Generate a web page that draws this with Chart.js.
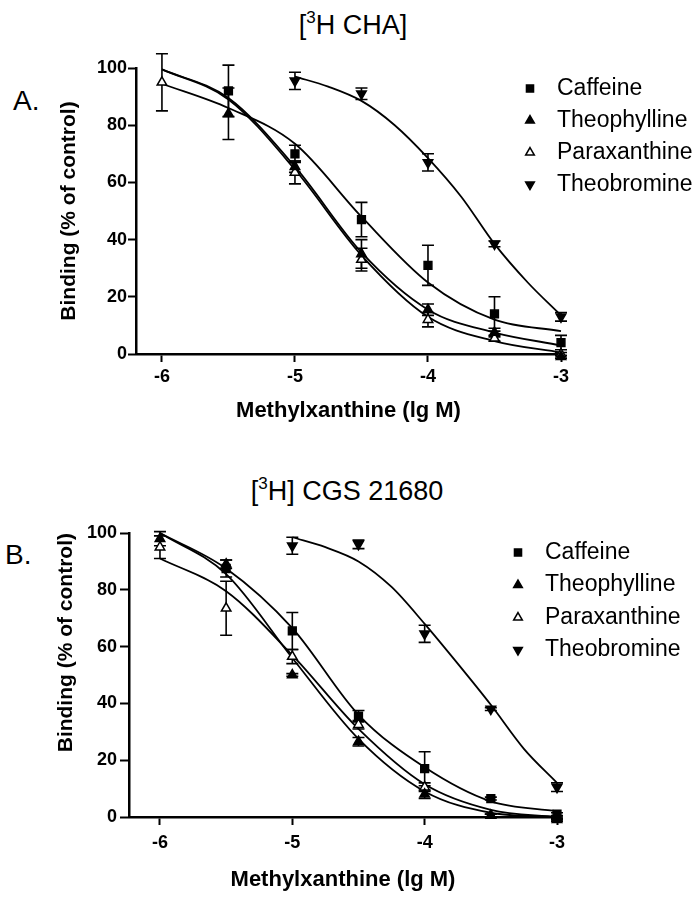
<!DOCTYPE html>
<html>
<head>
<meta charset="utf-8">
<script src="https://cdn.jsdelivr.net/npm/chart.js@4.4.1/dist/chart.umd.min.js"></script>
<style>
  body { margin: 0; background: #fff; }
  #page { position: relative; width: 695px; height: 900px; font-family: 'Liberation Sans', Arial, sans-serif; color: #000; }
  canvas { position: absolute; left: 0; }
  .title { position: absolute; width: 260px; text-align: center; font-size: 27px; line-height: 27px; white-space: nowrap; }
  .title sup { font-size: 17px; line-height: 0; position: relative; top: -11px; vertical-align: baseline; }
  .panel { position: absolute; font-size: 28px; line-height: 28px; }
</style>
</head>
<body>
<div id="page">
  <div class="title" style="left:223px; top:12px">[<sup>3</sup>H CHA]</div>
  <div class="panel" style="left:13px; top:87px">A.</div>
  <canvas id="chartA" width="695" height="450" style="top:0"></canvas>

  <div class="title" style="left:217px; top:478px">[<sup>3</sup>H] CGS 21680</div>
  <div class="panel" style="left:5px; top:541px">B.</div>
  <canvas id="chartB" width="695" height="450" style="top:450px"></canvas>
</div>

<script>
// series order used for both panels
const compounds = ['Caffeine', 'Theophylline', 'Paraxanthine', 'Theobromine']
const xTicks = [-6, -5, -4, -3]
const yTicks = [0, 20, 40, 60, 80, 100]

// ---- panel A: [3H] CHA binding ----
const caffeineXA = [-5.5, -5, -4.5, -4, -3.5, -3]
const caffeineA = [92, 70, 47, 31, 14, 4]
const caffeineErrA = [9, 3, 6, 7, 6, 2.5]

const theophyllineXA = [-5.5, -5, -4.5, -4, -3.5, -3]
const theophyllineA = [84, 65.5, 35, 15.5, 7.5, -1]
const theophyllineErrA = [9, 2, 5, 2, 1.5, 0.5]

const paraxanthineXA = [-6, -5, -4.5, -4, -3.5, -3]
const paraxanthineA = [95, 63.5, 33, 12, 5.5, 0]
const paraxanthineErrA = [10, 4, 4, 2.5, 1, 0.5]

const theobromineXA = [-5, -4.5, -4, -3.5, -3]
const theobromineA = [95.5, 91, 67, 38.5, 13]
const theobromineErrA = [3, 2, 3, 1, 1.5]

// fitted curves
const fitX = [-6, -5.5, -5, -4.5, -4, -3.5, -3]
const caffeineFitA = [94.5, 86, 73.5, 48, 25, 12, 8]
const theophyllineFitA = [99.5, 89.5, 65.5, 35.5, 15.5, 7.5, 3]
const paraxanthineFitA = [99.5, 89, 64.5, 34.5, 13, 4.5, 0.5]
const theobromineFitX = [-5, -4.75, -4.5, -4.25, -4, -3.75, -3.5, -3.25, -3]
const theobromineFitA = [97, 93.5, 88.5, 80, 68.5, 55, 38.5, 25, 13.5]

// ---- panel B: [3H] CGS 21680 binding ----
const caffeineXB = [-5.5, -5, -4.5, -4, -3.5, -3]
const caffeineB = [87.5, 65.5, 35.5, 17, 6.5, 1]
const caffeineErrB = [3, 6.5, 2, 6, 0.5, 0.5]

const theophyllineXB = [-6, -5.5, -5, -4.5, -4, -3.5, -3]
const theophyllineB = [98, 89, 50, 26.5, 8, 0.5, -1]
const theophyllineErrB = [2.5, 1.5, 0.5, 1.5, 1.5, 0.5, 0.5]

const paraxanthineXB = [-6, -5.5, -5, -4.5, -4, -3.5, -3]
const paraxanthineB = [95, 73.5, 56.5, 32.5, 10.5, 0.5, -0.5]
const paraxanthineErrB = [4, 9.5, 2.5, 1.5, 1.5, 0.5, 0.5]

const theobromineXB = [-5, -4.5, -4, -3.5, -3]
const theobromineB = [95.5, 96, 64.5, 38, 10.5]
const theobromineErrB = [3, 1.5, 3, 0.5, 1.5]

const caffeineFitB = [100, 87.5, 66.5, 36, 17.5, 5.5, 2]
const theophyllineFitB = [100, 85.5, 56, 27.5, 9, 1.5, 0]
const paraxanthineFitB = [91, 79.5, 57, 31, 11.5, 2.5, 0]
const theobromineFitB = [98.5, 95, 90, 81, 68, 54, 39.5, 24, 12]

const FONT = "'Liberation Sans', Arial, sans-serif"
Chart.defaults.font.family = FONT
Chart.defaults.color = '#000'

const markers = [
  { style: 'rect', rot: 0, fill: '#000' },
  { style: 'triangle', rot: 0, fill: '#000' },
  { style: 'triangle', rot: 0, fill: '#fff' },
  { style: 'triangle', rot: 180, fill: '#000' },
]

function pts(xs, ys) {
  return xs.map((x, i) => ({ x: x, y: ys[i] }))
}

// vertical SEM bars with caps, under the symbols
const errorBars = {
  id: 'errorBars',
  beforeDatasetsDraw(chart) {
    const ctx = chart.ctx
    const ys = chart.scales.y
    ctx.save()
    ctx.strokeStyle = '#000'
    ctx.lineWidth = 1.6
    chart.data.datasets.forEach((ds, i) => {
      if (!ds.errors) return
      chart.getDatasetMeta(i).data.forEach((pt, j) => {
        const v = ds.data[j].y
        const e = ds.errors[j]
        const top = ys.getPixelForValue(v + e)
        const bot = ys.getPixelForValue(v - e)
        ctx.beginPath()
        ctx.moveTo(pt.x, top)
        ctx.lineTo(pt.x, bot)
        ctx.moveTo(pt.x - 6, top)
        ctx.lineTo(pt.x + 6, top)
        ctx.moveTo(pt.x - 6, bot)
        ctx.lineTo(pt.x + 6, bot)
        ctx.stroke()
      })
    })
    ctx.restore()
  }
}

// legend sitting over the top right of the plot, like the original
const sideLegend = {
  id: 'sideLegend',
  afterDraw(chart, args, opts) {
    const ctx = chart.ctx
    ctx.save()
    ctx.font = '23px ' + FONT
    ctx.textBaseline = 'middle'
    chart.data.datasets.filter(d => d.errors).forEach((ds, i) => {
      const y = opts.top + i * opts.step
      ctx.fillStyle = ds.backgroundColor
      ctx.strokeStyle = '#000'
      ctx.lineWidth = ds.borderWidth
      Chart.helpers.drawPoint(ctx, {
        pointStyle: ds.pointStyle,
        rotation: ds.rotation,
        radius: 5,
        borderWidth: ds.borderWidth
      }, opts.markerX, y)
      ctx.fillStyle = '#000'
      ctx.fillText(ds.label, opts.textX, y)
    })
    ctx.restore()
  }
}

function makePanel(id, p) {
  const datasets = []
  p.series.forEach((s, i) => {
    datasets.push({
      label: compounds[i],
      data: pts(s.x, s.y),
      errors: s.err,
      pointStyle: markers[i].style,
      rotation: markers[i].rot,
      backgroundColor: markers[i].fill,
      borderColor: '#000',
      borderWidth: 1.5,
      pointRadius: 5.5,
      showLine: false,
      clip: false,
    })
  })
  p.fits.forEach(f => {
    datasets.push({
      data: pts(f.x, f.y),
      showLine: true,
      pointRadius: 0,
      borderColor: '#000',
      borderWidth: 1.8,
      cubicInterpolationMode: 'monotone',
      fill: false,
      clip: false,
    })
  })

  return new Chart(document.getElementById(id), {
    type: 'scatter',
    data: { datasets: datasets },
    plugins: [errorBars, sideLegend],
    options: {
      responsive: false,
      animation: false,
      devicePixelRatio: 1,
      events: [],
      layout: { padding: { left: 0, top: p.top, right: p.right, bottom: 0 } },
      plugins: {
        legend: { display: false },
        tooltip: { enabled: false },
        sideLegend: p.legend,
      },
      scales: {
        x: {
          type: 'linear',
          min: p.xMin,
          max: -3,
          afterBuildTicks: s => { s.ticks = xTicks.map(v => ({ value: v })) },
          afterFit: s => { s.height = p.xAxisH },
          grid: { drawOnChartArea: false, tickLength: 8, tickWidth: 2, tickColor: '#000' },
          border: { color: '#000', width: 2.5 },
          ticks: { color: '#000', font: { size: 18, weight: 'bold' }, padding: p.xTickPad, maxRotation: 0, autoSkip: false },
          title: {
            display: true,
            text: 'Methylxanthine (lg M)',
            color: '#000',
            font: { size: 22, weight: 'bold' },
            padding: { top: 0, bottom: p.xTitlePad }
          }
        },
        y: {
          min: 0,
          max: 100,
          afterBuildTicks: s => { s.ticks = yTicks.map(v => ({ value: v })) },
          afterFit: s => { s.width = p.yAxisW },
          grid: { drawOnChartArea: false, tickLength: p.yTickLen, tickWidth: 2, tickColor: '#000' },
          border: { color: '#000', width: 2.5 },
          ticks: { color: '#000', font: { size: 18, weight: 'bold' }, padding: p.yTickPad },
          title: {
            display: true,
            text: 'Binding (% of control)',
            color: '#000',
            align: p.yTitleAlign,
            font: { size: 21, weight: 'bold' },
            padding: { top: p.yTitlePad, bottom: 0 }
          }
        }
      }
    }
  })
}

makePanel('chartA', {
  series: [
    { x: caffeineXA, y: caffeineA, err: caffeineErrA },
    { x: theophyllineXA, y: theophyllineA, err: theophyllineErrA },
    { x: paraxanthineXA, y: paraxanthineA, err: paraxanthineErrA },
    { x: theobromineXA, y: theobromineA, err: theobromineErrA },
  ],
  fits: [
    { x: fitX, y: caffeineFitA },
    { x: fitX, y: theophyllineFitA },
    { x: fitX, y: paraxanthineFitA },
    { x: theobromineFitX, y: theobromineFitA },
  ],
  xMin: -6.195,
  top: 68,
  right: 134,
  yAxisW: 136,
  xAxisH: 96,
  xTickPad: 4,
  xTitlePad: 26,
  yTickLen: 8,
  yTickPad: 1,
  yTitlePad: 57,
  yTitleAlign: 'center',
  legend: { markerX: 530, textX: 557, top: 88.5, step: 32 },
})

makePanel('chartB', {
  series: [
    { x: caffeineXB, y: caffeineB, err: caffeineErrB },
    { x: theophyllineXB, y: theophyllineB, err: theophyllineErrB },
    { x: paraxanthineXB, y: paraxanthineB, err: paraxanthineErrB },
    { x: theobromineXB, y: theobromineB, err: theobromineErrB },
  ],
  fits: [
    { x: fitX, y: caffeineFitB },
    { x: fitX, y: theophyllineFitB },
    { x: fitX, y: paraxanthineFitB },
    { x: theobromineFitX, y: theobromineFitB },
  ],
  xMin: -6.234,
  top: 83,
  right: 138,
  yAxisW: 129,
  xAxisH: 83,
  xTickPad: 7,
  xTitlePad: 7,
  yTickLen: 9,
  yTickPad: 3,
  yTitlePad: 54,
  yTitleAlign: 'end',
  legend: { markerX: 518, textX: 545, top: 102.5, step: 32.5 },
})
</script>
</body>
</html>
